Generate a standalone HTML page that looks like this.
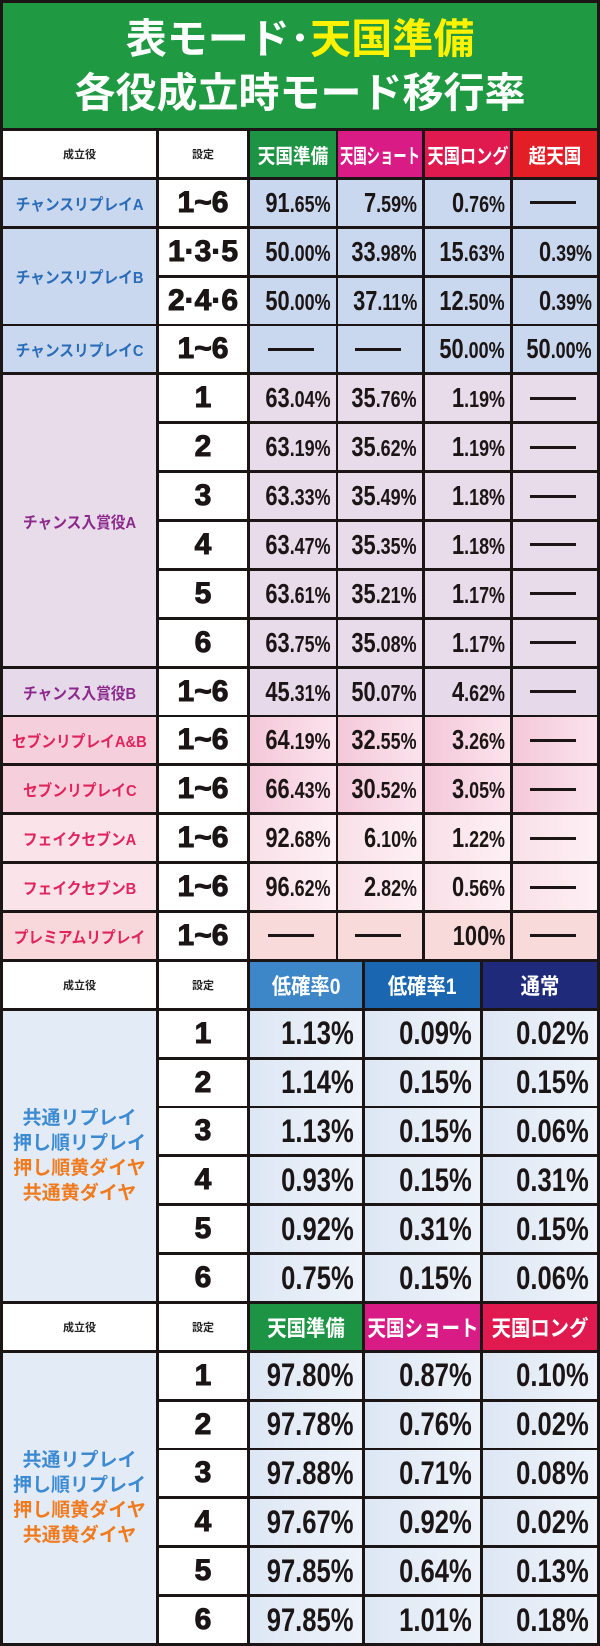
<!DOCTYPE html>
<html><head><meta charset="utf-8">
<style>
html,body{margin:0;padding:0;background:#1b1516;}
#root{position:relative;width:600px;height:1646px;overflow:hidden;background:#1b1516;font-family:"Liberation Sans","Noto Sans CJK JP",sans-serif;}
.c{position:absolute;display:flex;align-items:center;justify-content:center;box-sizing:border-box;overflow:hidden;}
.t{display:inline-block;white-space:nowrap;transform-origin:center center;}
.num{font-family:"Liberation Sans Narrow","Liberation Sans",sans-serif;font-weight:bold;color:#1b1516;transform-origin:right center;}
.dash{width:46px;height:3px;background:#1b1516;}
</style></head>
<body>
<div id="root">
  <div class="c" style="left:3px;top:3px;width:594px;height:125px;background:#1f9a42;flex-direction:column;font-weight:bold;color:#fff;font-size:41px;line-height:54px;">
    <div>表モード･<span style="color:#fff200">天国準備</span></div>
    <div>各役成立時モード移行率</div>
  </div>
</div>
<script>
// ---- data ----
const sec1Headers = ["天国準備","天国ショート","天国ロング","超天国"];
const sec1Roles = ["チャンスリプレイA","チャンスリプレイB","チャンスリプレイC","チャンス入賞役A","チャンス入賞役B","セブンリプレイA&B","セブンリプレイC","フェイクセブンA","フェイクセブンB","プレミアムリプレイ"];
const sec1RoleSpans = [1,2,1,6,1,1,1,1,1,1];
const sec1Settings = ["1~6","1·3·5","2·4·6","1~6","1","2","3","4","5","6","1~6","1~6","1~6","1~6","1~6","1~6"];
const sec1Junbi = ["91.65","50.00","50.00","-","63.04","63.19","63.33","63.47","63.61","63.75","45.31","64.19","66.43","92.68","96.62","-"];
const sec1Short = ["7.59","33.98","37.11","-","35.76","35.62","35.49","35.35","35.21","35.08","50.07","32.55","30.52","6.10","2.82","-"];
const sec1Long = ["0.76","15.63","12.50","50.00","1.19","1.19","1.18","1.18","1.17","1.17","4.62","3.26","3.05","1.22","0.56","100"];
const sec1Super = ["-","0.39","0.39","50.00","-","-","-","-","-","-","-","-","-","-","-","-"];
const sec2Headers = ["低確率0","低確率1","通常"];
const sec2Settings = ["1","2","3","4","5","6"];
const sec2Low0 = ["1.13","1.14","1.13","0.93","0.92","0.75"];
const sec2Low1 = ["0.09","0.15","0.15","0.15","0.31","0.15"];
const sec2Normal = ["0.02","0.15","0.06","0.31","0.15","0.06"];
const sec3Headers = ["天国準備","天国ショート","天国ロング"];
const sec3Junbi = ["97.80","97.78","97.88","97.67","97.85","97.85"];
const sec3Short = ["0.87","0.76","0.71","0.92","0.64","1.01"];
const sec3Long = ["0.10","0.02","0.08","0.02","0.13","0.18"];
const groupLabelLines = ["共通リプレイ","押し順リプレイ","押し順黄ダイヤ","共通黄ダイヤ"];
</script>
<script>
const root=document.getElementById('root');
const P=48.87, T0=131, H=46;
function Y(i){return T0+i*P;}
const C4=[[3,153],[159,88],[250,86],[338,84],[425,85],[513,84]];
const C3=[[3,153],[159,88],[250,112],[365,115],[483,114]];
function cell(x,y,w,h,bg,name){
  const d=document.createElement('div');d.className='c';
  d.style.cssText+=`left:${x}px;top:${y}px;width:${w}px;height:${h}px;background:${bg};`;
  
  
  root.appendChild(d);return d;
}
function txt(d,s,css,name){
  const sp=document.createElement('span');sp.className='t';sp.textContent=s;sp.style.cssText+=css;
  
  
  d.appendChild(sp);return sp;
}
function fit(sp,avail,maxs){const w=sp.scrollWidth;let s=Math.min(maxs||1,avail/w);if(s<1){sp.style.transform=`scaleX(${s})`;}}
function val(d,v,big,small,name,avail,maxs){
  if(v==='-'){const k=document.createElement('div');k.className='dash';
    
    
    d.appendChild(k);return;}
  d.style.justifyContent='flex-end';
  const sp=document.createElement('span');sp.className='t num';
  
  
  const p=v.indexOf('.');
  if(p<0){sp.innerHTML=`<span style="font-size:${big}px">${v}</span><span style="font-size:${small}px">%</span>`;}
  else{sp.innerHTML=`<span style="font-size:${big}px">${v.slice(0,p)}</span><span style="font-size:${small}px">${v.slice(p)}%</span>`;}
  d.appendChild(sp);
  fit(sp,avail,maxs);
}
function header(row,cols,hdrs,colors,fs){
  const y=Y(row);
  let d=cell(cols[0][0],y,cols[0][1],H,'#fff','header-role');
  txt(d,'成立役','font-size:11px;font-weight:bold;color:#222;','header-role-text');
  d=cell(cols[1][0],y,cols[1][1],H,'#fff','header-setting');
  txt(d,'設定','font-size:11px;font-weight:bold;color:#222;','header-setting-text');
  hdrs.forEach((h,i)=>{const c=cols[i+2];
    const dd=cell(c[0],y,c[1],H,colors[i],'header-'+i);
    const sp=txt(dd,h,`font-size:${fs}px;font-weight:bold;color:#fff;`,'header-text');
    fit(sp,c[1]-4,0.88);
  });
}
// section 1
header(0,C4,sec1Headers,['#1d9444','#d81b85','#e0194f','#e41e26'],20);
const roleColors=['#2a6cb8','#2a6cb8','#2a6cb8','#8c2a8c','#8c2a8c','#e0245e','#e0245e','#e0245e','#e0245e','#e0245e'];
const rowBg=['#c9d8ee','#c9d8ee','#c9d8ee','#c9d8ee','#e8dbea','#e8dbea','#e8dbea','#e8dbea','#e8dbea','#e8dbea','#e6d9ea',
 'linear-gradient(90deg,#f4c8d8,#fbe3ec)','linear-gradient(90deg,#f4c8d8,#fbe3ec)','linear-gradient(90deg,#f9e0e8,#fdf0f4)','linear-gradient(90deg,#f9e0e8,#fdf0f4)','#f8dada'];
const roleBg=['#c9d8ee','#c9d8ee','#c9d8ee','#e8dbea','#e6d9ea','#f6cfdc','#f6cfdc','#fbe3ea','#fbe3ea','#f8d8da'];
let r=1;
sec1Roles.forEach((name,i)=>{
  const n=sec1RoleSpans[i];
  const d=cell(C4[0][0],Y(r),C4[0][1],Y(r+n-1)+H-Y(r),roleBg[i],'role-label');
  const sp=txt(d,name,`font-size:16px;font-weight:bold;color:${roleColors[i]};`,'role-text');
  fit(sp,C4[0][1]-6,0.92);
  r+=n;
});
const s1cols=[sec1Junbi,sec1Short,sec1Long,sec1Super];
sec1Settings.forEach((s,i)=>{
  const y=Y(i+1);
  const d=cell(C4[1][0],y,C4[1][1],H,'#fff','setting-cell');
  const sp=txt(d,s,'font-size:30px;font-weight:900;color:#1b1516;-webkit-text-stroke:1px #1b1516;','setting-text');
  fit(sp,C4[1][1]-8);
  s1cols.forEach((arr,j)=>{
    const c=C4[j+2];
    const dd=cell(c[0],y,c[1],H,rowBg[i],'value-cell');
    dd.style.paddingRight='5px';
    val(dd,arr[i],28,23,'value-text',c[1]-8,0.78);
  });
});
// section 2 & 3
function section(start,hdrs,colors,cols3){
  header(start,C3,hdrs,colors,22);
  const d=cell(C3[0][0],Y(start+1),C3[0][1],Y(start+6)+H-Y(start+1),'#e3ebf6','group-label');
  d.style.flexDirection='column';
  groupLabelLines.forEach((l,k)=>{
    const sp=txt(d,l,`font-size:19px;line-height:25px;font-weight:bold;color:${k<2?'#3c8ad2':'#f07a1e'};`,'group-label-line');
  });
  sec2Settings.forEach((s,i)=>{
    const y=Y(start+1+i);
    const dd=cell(C3[1][0],y,C3[1][1],H,'#fff','setting-cell');
    txt(dd,s,'font-size:30px;font-weight:900;color:#1b1516;-webkit-text-stroke:1px #1b1516;','setting-text');
    cols3.forEach((arr,j)=>{
      const c=C3[j+2];
      const vc=cell(c[0],y,c[1],H,'linear-gradient(90deg,#dde7f4,#eef3fa)','value-cell');
      vc.style.paddingRight='8px';
      val(vc,arr[i],32,32,'value-text',c[1]-14,0.8);
    });
  });
}
section(17,sec2Headers,['#3d86c8','#1a66b0','#1f2a7a'],[sec2Low0,sec2Low1,sec2Normal]);
section(24,sec3Headers,['#1d9444','#d81b85','#e0194f'],[sec3Junbi,sec3Short,sec3Long]);
</script>
</body></html>
